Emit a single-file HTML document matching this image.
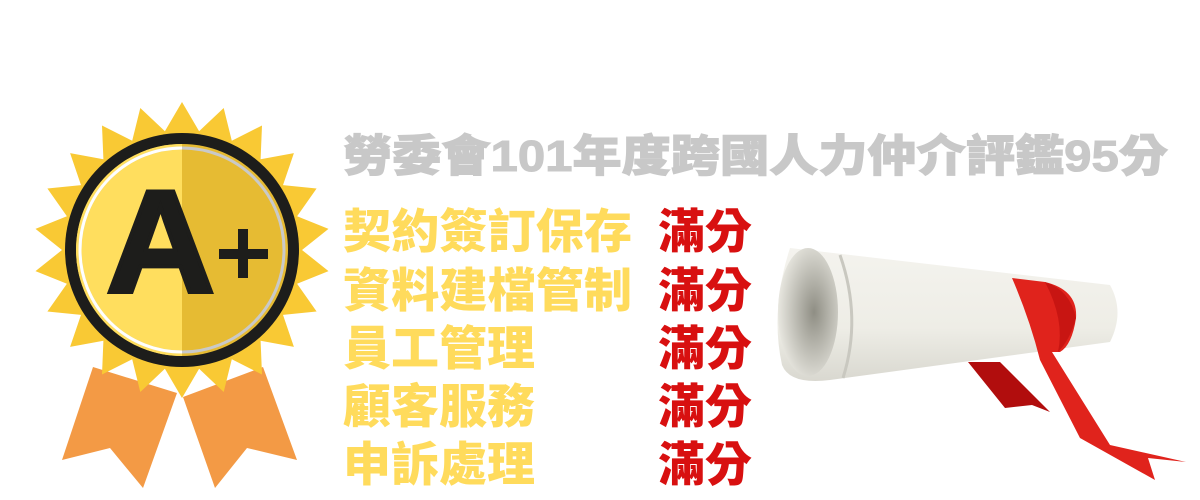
<!DOCTYPE html>
<html><head><meta charset="utf-8">
<style>
html,body{margin:0;padding:0;background:#fff;}
svg{display:block;}
text{font-family:"Liberation Sans","Noto Sans CJK TC",sans-serif;font-weight:900;}
</style></head>
<body>
<svg width="1200" height="500" viewBox="0 0 1200 500">
  <defs>
    <clipPath id="leftHalf"><rect x="0" y="0" width="182" height="500"/></clipPath>
    <linearGradient id="scrollG" x1="0" y1="0" x2="0" y2="1">
      <stop offset="0" stop-color="#f4f3ee"/><stop offset="0.6" stop-color="#eeede6"/><stop offset="1" stop-color="#d9d8d0"/>
    </linearGradient>
    <radialGradient id="innerG" cx="0.6" cy="0.5" r="0.6">
      <stop offset="0" stop-color="#8f8e84"/><stop offset="1" stop-color="#e8e7e0"/>
    </radialGradient>
  </defs>

  <g>
    <polygon fill="#F39A45" points="93,367 62,460 110,448 143,488 177,393"/>
    <polygon fill="#F39A45" points="183,397 215,488 247,448 297,460 263,367"/>
    <polygon id="burst" fill="#F9C934" points=""/>
    <circle cx="182" cy="250" r="117" fill="#1d1d1b"/>
    <circle cx="182" cy="250" r="106" fill="#E6BB33"/>
    <circle cx="182" cy="250" r="106" fill="#FFDE5E" clip-path="url(#leftHalf)"/>
    <circle cx="182" cy="250" r="102" fill="none" stroke="#c9c9c9" stroke-width="3"/>
    <circle cx="182" cy="250" r="102" fill="none" stroke="#ffffff" stroke-width="3" clip-path="url(#leftHalf)"/>
    <text x="106" y="292" font-size="146" fill="#1d1d1b" stroke="#1d1d1b" stroke-width="4" textLength="109" lengthAdjust="spacingAndGlyphs">A</text>
    <rect x="219" y="249" width="49" height="10" fill="#1d1d1b"/>
    <rect x="238" y="229" width="10" height="49" fill="#1d1d1b"/>
  </g>

  <g>
    <path fill="url(#scrollG)" d="M790,248 L1110,285 Q1125,312 1110,342 L830,380 Q790,385 782,365 Q770,310 790,248 Z"/>
    <ellipse cx="808" cy="312" rx="30" ry="64" fill="url(#innerG)"/>
    <path d="M840,255 Q862,318 843,378" fill="none" stroke="#c9c8c0" stroke-width="3"/>
    <polygon fill="#b10d0d" points="968,362 1000,362 1050,412 1032,405 1005,408"/>
    <path fill="#e0231c" d="M1012,278 L1045,282 Q1078,290 1076,318 Q1072,345 1060,352 L1052,352 L1110,445 L1186,462 L1148,458 L1155,480 L1080,438 L1040,360 Q1030,320 1012,278 Z"/>
    <path fill="#c81512" d="M1045,282 Q1070,290 1076,318 Q1070,340 1058,352 Q1065,320 1045,282 Z"/>
  </g>

  <text x="343" y="171" font-size="44" fill="#C8C8C8" stroke="#C8C8C8" stroke-width="1" textLength="825" lengthAdjust="spacingAndGlyphs">勞委會101年度跨國人力仲介評鑑95分</text>

  <g>
    <text x="343" y="248" font-size="47" fill="#FFDB5C" textLength="289" lengthAdjust="spacingAndGlyphs">契約簽訂保存</text>
    <text x="343" y="307" font-size="47" fill="#FFDB5C" textLength="289" lengthAdjust="spacingAndGlyphs">資料建檔管制</text>
    <text x="343" y="365" font-size="47" fill="#FFDB5C" textLength="192" lengthAdjust="spacingAndGlyphs">員工管理</text>
    <text x="343" y="423" font-size="47" fill="#FFDB5C" textLength="192" lengthAdjust="spacingAndGlyphs">顧客服務</text>
    <text x="343" y="481" font-size="47" fill="#FFDB5C" textLength="192" lengthAdjust="spacingAndGlyphs">申訴處理</text>
    <text x="658" y="248" font-size="47" fill="#D81010" textLength="94" lengthAdjust="spacingAndGlyphs">滿分</text>
    <text x="658" y="307" font-size="47" fill="#D81010" textLength="94" lengthAdjust="spacingAndGlyphs">滿分</text>
    <text x="658" y="365" font-size="47" fill="#D81010" textLength="94" lengthAdjust="spacingAndGlyphs">滿分</text>
    <text x="658" y="423" font-size="47" fill="#D81010" textLength="94" lengthAdjust="spacingAndGlyphs">滿分</text>
    <text x="658" y="481" font-size="47" fill="#D81010" textLength="94" lengthAdjust="spacingAndGlyphs">滿分</text>
  </g>
</svg>
<script>
var spikes = 22;
var pts = [];
for (var i = 0; i < spikes * 2; i++) {
  var a = Math.PI * i / spikes - Math.PI / 2;
  var r = (i % 2 === 0) ? 148 : 120;
  pts.push((182 + r * Math.cos(a)).toFixed(1) + ',' + (250 + r * Math.sin(a)).toFixed(1));
}
document.getElementById('burst').setAttribute('points', pts.join(' '));
</script>
</body></html>
